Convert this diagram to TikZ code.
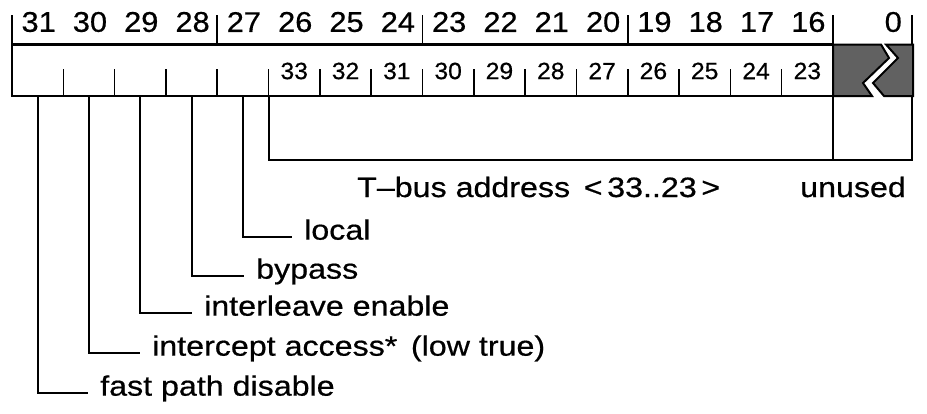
\documentclass[tikz,border=0pt]{standalone}
\usepackage{fontspec}
\setmainfont{Liberation Sans}
\newfontfamily\labelfont[FakeStretch=1.15,FakeBold=0.6]{Liberation Sans}
\newfontfamily\bitfont[FakeStretch=1.08,FakeBold=0.6]{Liberation Sans}
\newfontfamily\subfont[FakeStretch=1.05,FakeBold=0.5]{Liberation Sans}
\tikzset{
  boxline/.style={line width=2.4pt},
  tickline/.style={line width=1.6pt},
  conn/.style={line width=2pt},
  hatch/.style={line width=2pt, draw=black, fill=black!62},
  bitlabel/.style={font=\bitfont\fontsize{28.5}{30}\selectfont, inner sep=0pt, anchor=center},
  sublabel/.style={font=\subfont\fontsize{23.5}{25}\selectfont, inner sep=0pt, anchor=center},
  desc/.style={font=\labelfont\fontsize{28}{30}\selectfont, inner sep=0pt, anchor=mid west},
}
\begin{document}
\begin{tikzpicture}[x=1pt,y=-1pt]
\useasboundingbox (0,0) rectangle (927,413);
\def\cw{51.3125}
% box
\draw[boxline] (12,44.5) rectangle (833,96);
\draw[hatch] (833,44.5) -- (881,44.5) -- (889,58) -- (863,83) -- (872,96) -- (833,96) -- cycle;
\draw[hatch] (886,44.5) -- (913,44.5) -- (913,96) -- (884,96) -- (873,83) -- (898,58) -- cycle;
% top ticks
\foreach \x in {12,217.25,422.5,627.75,833,912}
  \draw[tickline] (\x,15) -- (\x,44.5);
% inner ticks
\foreach \k in {1,...,15}
  \draw[tickline] (12+\k*\cw,69) -- (12+\k*\cw,96);
% top bit numbers
\foreach \b [count=\k from 0] in {31,30,29,28,27,26,25,24,23,22,21,20,19,18,17,16}
  \node[bitlabel] (t\b) at (12+\k*\cw+0.5*\cw+1,22) {\b};
\node[bitlabel, anchor=east] (t0) at (902,22) {0};
% lower numbers
\foreach \b [count=\k from 5] in {33,32,31,30,29,28,27,26,25,24,23}
  \node[sublabel] (s\b) at (12+\k*\cw+0.5*\cw,71) {\b};
% bit coordinates on box bottom
\foreach \b [count=\k from 0] in {31,30,29,28,27}
  \coordinate (c\b) at (12+\k*\cw+0.5*\cw,96);
\coordinate (tb0) at (12+5*\cw,96);
\coordinate (tb1) at (833,96);
\coordinate (tb2) at (912,96);
% descriptions
\node[desc] (d27) at (304,237) {local};
\node[desc] (d28) at (256,276) {bypass};
\node[desc] (d29) at (204,313) {interleave enable};
\node[desc] (d30) at (152,353) {intercept access*\, (low true)};
\node[desc] (d31) at (100,393) {fast path disable};
\foreach \b in {27,28,29,30,31}
  \draw[conn] (c\b) |- ([xshift=-12pt]d\b.mid west);
% T-bus bracket
\draw[conn] (tb0) -- (tb0 |- 0,160) -- (tb2 |- 0,160) -- (tb2);
\draw[conn] (tb1) -- (tb1 |- 0,160);
\node[desc, anchor=base west] (tbus) at (357,197) {T–bus address \,<\,33..23\,>};
\node[desc, anchor=base west] (unused) at (800,197) {unused};
\end{tikzpicture}
\end{document}
